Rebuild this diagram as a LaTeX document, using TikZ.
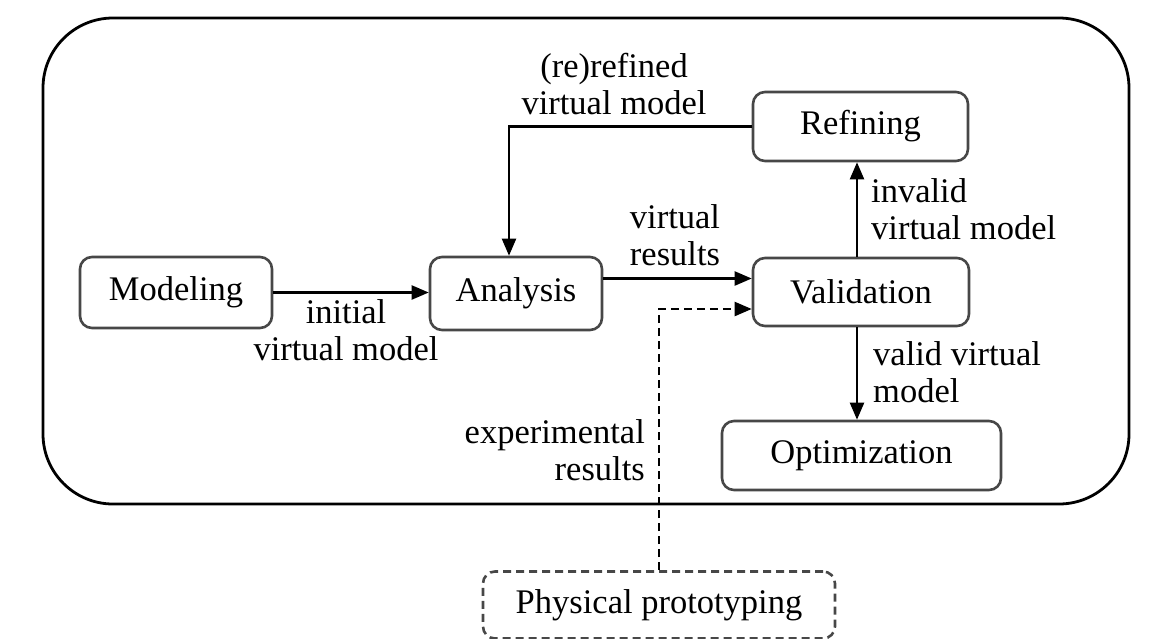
\documentclass[tikz,border=0pt]{standalone}
\usepackage{fontspec}
\setmainfont{Liberation Serif}
\usetikzlibrary{arrows.meta}
\begin{document}
\begin{tikzpicture}[x=1pt,y=-1pt,
  lbl/.style={font=\fontsize{34.5}{37}\selectfont, inner sep=0pt},
  box/.style={draw=black!72, line width=2.6pt, rounded corners=12pt, inner sep=0pt,
    font=\fontsize{34.5}{37}\selectfont},
  arr/.style={line width=2.2pt, -{Triangle[length=17pt,width=14pt]}},
  dasharr/.style={arr, dash pattern=on 8pt off 5pt},
  frame/.style={draw=black, line width=2.8pt, rounded corners=70pt}]
\useasboundingbox (0,0) rectangle (1159,638);
\path[frame] (43,18) rectangle (1129,504);
\node[box, minimum width=192pt, minimum height=71pt] (mod) at (176,292.5) {Modeling};
\node[box, minimum width=172pt, minimum height=73pt] (ana) at (516,293.5) {Analysis};
\node[box, minimum width=216pt, minimum height=68pt] (val) at (861,292) {Validation};
\node[box, minimum width=215pt, minimum height=69pt] (ref) at (860.5,126.5) {Refining};
\node[box, minimum width=279pt, minimum height=69pt] (opt) at (861.5,455.5) {Optimization};
\node[box, dash pattern=on 8pt off 5pt, minimum width=352pt, minimum height=67pt] (phys) at (659,605) {Physical prototyping};
% connectors
\draw[arr] (mod.east) -- (mod.east -| ana.west);
\draw[arr] ([yshift=15pt]ana.east) -- ([yshift=15pt]ana.east -| val.west);
\draw[arr] (ref.west) -| ([xshift=-7pt]ana.north);
\draw[arr] ([xshift=-4pt]val.north) -- ([xshift=-4pt]val.north |- ref.south);
\draw[arr] ([xshift=-4pt]val.south) -- ([xshift=-4pt]val.south |- opt.north);
\draw[dasharr] (phys.north) |- ([yshift=-17pt]val.west);
% labels
\node[lbl, anchor=north, align=center] (l1) at (614,53) {(re)refined\\virtual model};
\node[lbl, anchor=north, align=center] (l2) at (675,204) {virtual\\results};
\node[lbl, anchor=north, align=center] (l3) at (346,299) {initial\\virtual model};
\node[lbl, anchor=north west, align=left] (l4) at (871,178) {invalid\\virtual model};
\node[lbl, anchor=north west, align=left] (l5) at (873,341) {valid virtual\\model};
\node[lbl, anchor=north east, align=right] (l6) at (645,419) {experimental\\results};
\end{tikzpicture}
\end{document}
